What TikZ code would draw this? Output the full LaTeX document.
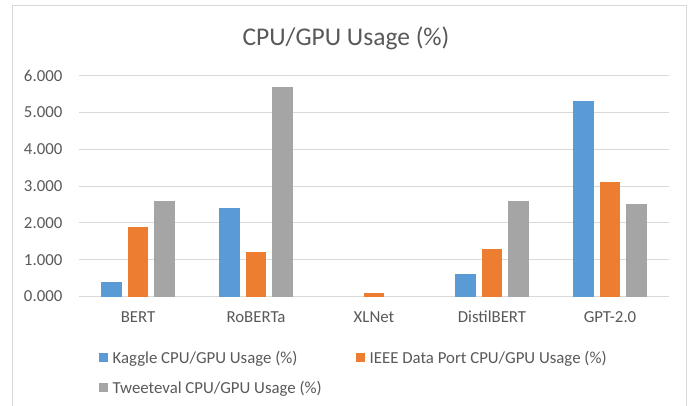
\documentclass[tikz,border=0pt]{standalone}
\usepackage{fontspec}
\setmainfont{Carlito}
\definecolor{txt}{HTML}{595959}
\definecolor{grid}{HTML}{D9D9D9}
\definecolor{kag}{HTML}{5B9BD5}
\definecolor{ieee}{HTML}{ED7D31}
\definecolor{twe}{HTML}{A5A5A5}
\begin{document}
\begin{tikzpicture}[x=1pt,y=-1pt,
  lbl/.style={text=txt,inner sep=0pt,font=\fontsize{16.8}{16.8}\selectfont},
  ttl/.style={text=txt,inner sep=0pt,font=\fontsize{25.5}{25.5}\selectfont},
  gridline/.style={draw=grid,line width=1pt},
  legbox/.style={minimum size=9pt,inner sep=0pt}]
\useasboundingbox (0,0) rectangle (691,406);
\fill[white] (0,0) rectangle (691,406);
% frame
\draw[grid,line width=1pt] (12.5,410) -- (12.5,5.5) -- (686,5.5) -- (686,410);
% title
\node[ttl,anchor=base] (title) at (346,46) {CPU/GPU Usage (\%)};
% gridlines and axis labels
\foreach \k/\t in {0/0.000,1/1.000,2/2.000,3/3.000,4/4.000,5/5.000,6/6.000}{
  \pgfmathsetmacro{\yy}{296.5-36.8*\k}
  \draw[gridline] (79,\yy) -- (669,\yy);
  \node[lbl,anchor=base east] (ylab\k) at (62.5,\yy+5.4) {\t};
}
% bars
\foreach \i/\a/\b/\c/\n in {0/0.4/1.9/2.6/BERT,1/2.4/1.2/5.7/RoBERTa,2/0/0.1/0/XLNet,3/0.6/1.3/2.6/DistilBERT,4/5.3/3.1/2.5/GPT-2.0}{
  \pgfmathsetmacro{\cx}{138+118*\i}
  \ifdim\a pt>0pt \fill[kag] (\cx-36.75,296.5) rectangle (\cx-16.25,296.5-36.8*\a); \fi
  \ifdim\b pt>0pt \fill[ieee] (\cx-10.25,296.5) rectangle (\cx+10.25,296.5-36.8*\b); \fi
  \ifdim\c pt>0pt \fill[twe] (\cx+16.25,296.5) rectangle (\cx+36.75,296.5-36.8*\c); \fi
  \node[lbl,anchor=base] (cat\i) at (\cx,322.5) {\n};
}
% legend
\node[legbox,fill=kag] (lk) at (103.5,357.5) {};
\node[lbl,anchor=base west] (lkt) at (112.5,363.2) {Kaggle CPU/GPU Usage (\%)};
\node[legbox,fill=ieee] (li) at (360.5,357.5) {};
\node[lbl,anchor=base west] (lit) at (369.5,363.2) {IEEE Data Port CPU/GPU Usage (\%)};
\node[legbox,fill=twe] (lt) at (103.5,387.5) {};
\node[lbl,anchor=base west] (ltt) at (112.5,393.2) {Tweeteval CPU/GPU Usage (\%)};
\end{tikzpicture}
\end{document}
